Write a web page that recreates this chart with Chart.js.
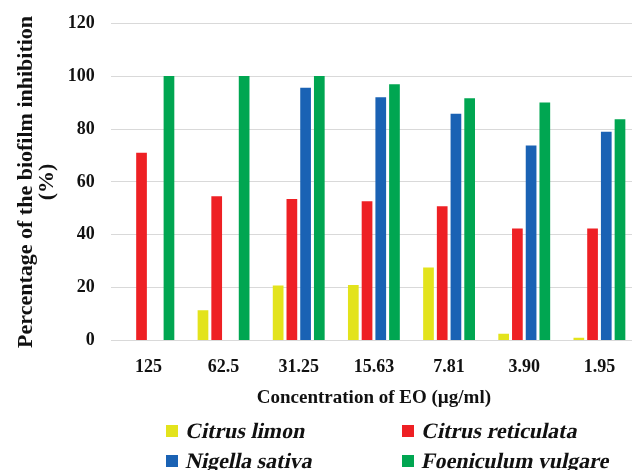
<!DOCTYPE html>
<html>
<head>
<meta charset="utf-8">
<script src="https://cdn.jsdelivr.net/npm/chart.js@4.4.1/dist/chart.umd.min.js"></script>
<style>
  html, body { margin: 0; padding: 0; background: #fff; overflow: hidden; }
  #wrap { width: 640px; height: 470px; }
</style>
</head>
<body>
<div id="wrap"><canvas id="myChart"></canvas></div>
<script>
var concentraciones = ["125", "62.5", "31.25", "15.63", "7.81", "3.90", "1.95"]
var citrusLimon = [0, 11.5, 20.8, 21, 27.6, 2.6, 1.1]
var citrusReticulata = [71, 54.6, 53.5, 52.7, 50.8, 42.4, 42.4]
var nigellaSativa = [0, 0, 95.6, 92, 85.8, 73.8, 79]
var foeniculumVulgare = [100, 100, 100, 96.9, 91.6, 90, 83.7]
var yTicks = [0, 20, 40, 60, 80, 100, 120]

var serif = "'Liberation Serif', 'Times New Roman', 'DejaVu Serif', serif"

// leyenda en dos columnas, dibujada a mano (cursiva simulada con skew)
var legendaPlugin = {
  id: 'legenda2col',
  afterDraw: function(chart) {
    var ctx = chart.ctx
    var cols = [166, 402]
    var rows = [chart.height - 39, chart.height - 9]
    chart.data.datasets.forEach(function(ds, i) {
      var x = cols[i % 2]
      var y = rows[Math.floor(i / 2)]
      ctx.save()
      ctx.fillStyle = ds.backgroundColor
      ctx.fillRect(x, y - 6, 12, 12)
      ctx.translate(x + 19, y + 7)
      ctx.transform(1, 0, -0.21, 1, 0, 0)
      ctx.font = "bold 22px " + serif
      ctx.textBaseline = 'alphabetic'
      ctx.fillStyle = '#111'
      ctx.fillText(ds.label, 0, 0)
      ctx.restore()
    })
  }
}

new Chart(document.getElementById("myChart"), {
  type: 'bar',
  data: {
    labels: concentraciones,
    datasets: [{
      label: "Citrus limon",
      data: citrusLimon,
      backgroundColor: "#e3e31c"
    }, {
      label: "Citrus reticulata",
      data: citrusReticulata,
      backgroundColor: "#ee2024"
    }, {
      label: "Nigella sativa",
      data: nigellaSativa,
      backgroundColor: "#1a62b4"
    }, {
      label: "Foeniculum vulgare",
      data: foeniculumVulgare,
      backgroundColor: "#00a651"
    }]
  },
  options: {
    responsive: true,
    maintainAspectRatio: false,
    animation: false,
    categoryPercentage: 0.73,
    barPercentage: 0.78,
    layout: { padding: { top: 17, left: 16, right: 3, bottom: 61 } },
    plugins: {
      legend: { display: false },
      tooltip: { enabled: false }
    },
    scales: {
      x: {
        grid: { display: false, drawTicks: false },
        border: { display: false },
        ticks: {
          padding: 16,
          color: '#111',
          font: { family: serif, size: 18, weight: 'bold' }
        },
        title: {
          display: true,
          text: 'Concentration of EO (µg/ml)',
          color: '#111',
          padding: { top: -8, bottom: 0 },
          font: { family: serif, size: 19, weight: 'bold' }
        }
      },
      y: {
        min: 0,
        max: 120,
        afterBuildTicks: function(axis) {
          axis.ticks = yTicks.map(function(v) { return { value: v } })
        },
        grid: { color: '#d9d9d9', drawTicks: false },
        border: { display: false },
        ticks: {
          padding: 16,
          color: '#111',
          font: { family: serif, size: 18, weight: 'bold', lineHeight: 0.8 }
        },
        title: {
          display: true,
          text: ['Percentage of the biofilm inhibition', '(%)'],
          color: '#111',
          padding: { top: 0, bottom: -6 },
          font: { family: serif, size: 22, weight: 'bold', lineHeight: 0.95 }
        }
      }
    }
  },
  plugins: [legendaPlugin]
});
</script>
</body>
</html>
